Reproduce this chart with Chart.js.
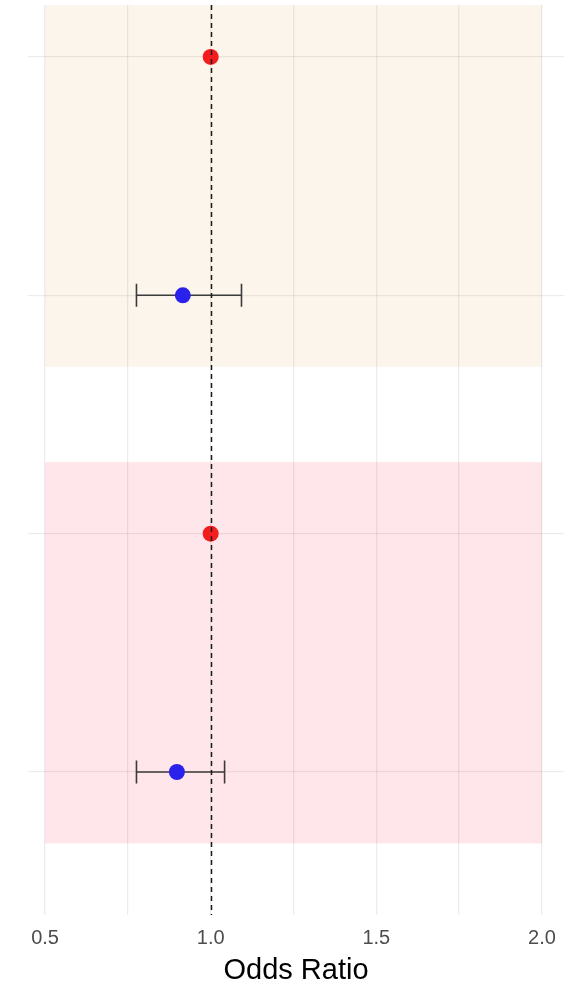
<!DOCTYPE html>
<html>
<head>
<meta charset="utf-8">
<script src="https://cdn.jsdelivr.net/npm/chart.js@4"></script>
<style>
  html, body { margin: 0; padding: 0; background: #ffffff; overflow: hidden; }
  #wrap { width: 564px; height: 985px; }
  #c { display: block; }
</style>
</head>
<body>
<div id="wrap"><canvas id="c" width="564" height="985"></canvas></div>
<script>
// Reference rows (odds ratio fixed at 1)
const refRows = [4, 2];
const refOR = [1.0, 1.0];

// Estimated rows with 95% confidence intervals
const estRows = [3, 1];
const estOR = [0.916, 0.898];
const estLower = [0.776, 0.776];
const estUpper = [1.093, 1.042];

// Shaded groups (row span) and their x extent
const bandRows = [[2.7, 4.3], [0.7, 2.3]];
const bandX = [0.5, 2.0];

// Axis ticks
const xGridTicks = [0.5, 0.75, 1.0, 1.25, 1.5, 1.75, 2.0];
const xLabelTicks = [0.5, 1.0, 1.5, 2.0];
const yGridTicks = [1, 2, 3, 4];
const nullValue = 1.0;

const bandColors = ['rgba(250, 235, 215, 0.5)', 'rgba(255, 192, 203, 0.4)'];
const noPadding = () => ({ left: 0, top: 0, right: 0, bottom: 0 });

const bandsPlugin = {
  id: 'bands',
  beforeDraw(chart) {
    const { ctx, chartArea, scales: { x, y } } = chart;
    ctx.save();
    ctx.beginPath();
    ctx.rect(chartArea.left, chartArea.top, chartArea.right - chartArea.left, chartArea.bottom - chartArea.top);
    ctx.clip();
    bandRows.forEach((r, i) => {
      const x0 = x.getPixelForValue(bandX[0]);
      const x1 = x.getPixelForValue(bandX[1]);
      const y0 = y.getPixelForValue(r[1]);
      const y1 = y.getPixelForValue(r[0]);
      ctx.fillStyle = bandColors[i];
      ctx.fillRect(x0, y0, x1 - x0, y1 - y0);
    });
    ctx.restore();
  }
};

const errorBarPlugin = {
  id: 'errorBars',
  beforeDatasetsDraw(chart) {
    const { ctx, scales: { x, y } } = chart;
    ctx.save();
    ctx.strokeStyle = '#3a3a3a';
    ctx.lineWidth = 1.6;
    const cap = 11.5;
    estRows.forEach((row, i) => {
      const py = y.getPixelForValue(row);
      const xl = x.getPixelForValue(estLower[i]);
      const xh = x.getPixelForValue(estUpper[i]);
      ctx.beginPath();
      ctx.moveTo(xl, py); ctx.lineTo(xh, py);
      ctx.moveTo(xl, py - cap); ctx.lineTo(xl, py + cap);
      ctx.moveTo(xh, py - cap); ctx.lineTo(xh, py + cap);
      ctx.stroke();
    });
    ctx.restore();
  }
};

const nullLinePlugin = {
  id: 'nullLine',
  afterDatasetsDraw(chart) {
    const { ctx, chartArea, scales: { x } } = chart;
    const px = Math.round(x.getPixelForValue(nullValue)) + 0.5;
    ctx.save();
    ctx.strokeStyle = '#1a1a1a';
    ctx.lineWidth = 1.5;
    ctx.setLineDash([5, 4]);
    ctx.beginPath();
    ctx.moveTo(px, chartArea.top);
    ctx.lineTo(px, chartArea.bottom);
    ctx.stroke();
    ctx.restore();
  }
};

new Chart(document.getElementById('c'), {
  type: 'scatter',
  data: {
    datasets: [
      {
        label: 'Reference',
        data: refRows.map((r, i) => ({ x: refOR[i], y: r })),
        backgroundColor: 'rgb(245, 28, 30)',
        borderWidth: 0,
        pointRadius: 8,
        pointHoverRadius: 8
      },
      {
        label: 'Estimate',
        data: estRows.map((r, i) => ({ x: estOR[i], y: r })),
        backgroundColor: 'rgb(42, 34, 236)',
        borderWidth: 0,
        pointRadius: 8,
        pointHoverRadius: 8
      }
    ]
  },
  options: {
    responsive: false,
    animation: false,
    devicePixelRatio: 1,
    layout: { autoPadding: false, padding: { left: 28, right: 0, top: 5, bottom: 0 } },
    plugins: {
      legend: { display: false },
      tooltip: { enabled: false }
    },
    scales: {
      x: {
        type: 'linear',
        position: 'bottom',
        min: 0.4486,
        max: 2.0665,
        afterBuildTicks(scale) {
          scale.ticks = xGridTicks.map(v => ({ value: v }));
        },
        afterFit(scale) {
          scale.height = 70;
          scale.paddingLeft = 0;
          scale.paddingRight = 0;
          scale.getPadding = noPadding;
        },
        grid: {
          color: 'rgba(0, 0, 0, 0.075)',
          lineWidth: 1.3,
          drawTicks: false
        },
        border: { display: false },
        ticks: {
          padding: 11,
          color: '#4d4d4d',
          font: { family: 'Liberation Sans, Arial, sans-serif', size: 20 },
          maxRotation: 0,
          autoSkip: false,
          callback(value) {
            return xLabelTicks.some(t => Math.abs(t - value) < 1e-9) ? Number(value).toFixed(1) : '';
          }
        },
        title: {
          display: true,
          text: 'Odds Ratio',
          color: '#000000',
          font: { family: 'Liberation Sans, Arial, sans-serif', size: 29, lineHeight: 1 },
          padding: { top: 0, bottom: 0 }
        }
      },
      y: {
        type: 'linear',
        position: 'left',
        min: 0.4,
        max: 4.218,
        afterBuildTicks(scale) {
          scale.ticks = yGridTicks.map(v => ({ value: v }));
        },
        afterFit(scale) {
          scale.width = 0;
          scale.paddingTop = 0;
          scale.paddingBottom = 0;
          scale.getPadding = noPadding;
        },
        grid: {
          color: 'rgba(0, 0, 0, 0.075)',
          lineWidth: 1.3,
          drawTicks: false
        },
        border: { display: false },
        ticks: { display: false }
      }
    }
  },
  plugins: [bandsPlugin, errorBarPlugin, nullLinePlugin]
});
</script>
</body>
</html>
